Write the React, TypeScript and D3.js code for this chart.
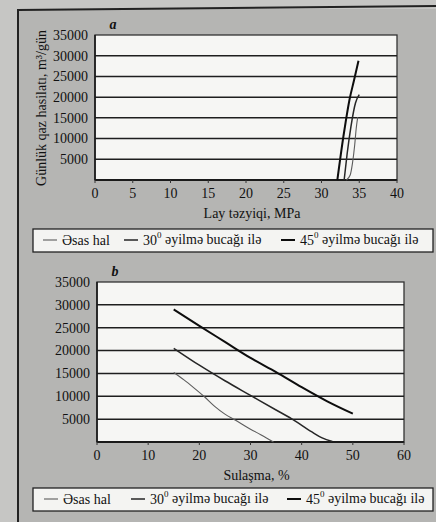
import React, { useEffect, useRef } from "react"
import * as d3 from "d3"

// panel a: pressure (MPa) vs daily gas rate
const pressureTicks = [0, 5, 10, 15, 20, 25, 30, 35, 40]
const rateTicks = [5000, 10000, 15000, 20000, 25000, 30000, 35000]
const pressBase = [[33.3, 0], [33.8, 1200], [34.1, 4000], [34.4, 8500], [34.6, 12500], [34.8, 15200]]
const press30 = [[33.0, 0], [33.4, 6400], [33.9, 12900], [34.5, 18600], [35.0, 20600]]
const press45 = [[32.1, 0], [32.9, 10500], [33.2, 14000], [33.7, 19300], [34.3, 24000], [34.9, 28800]]

// panel b: water cut (%) vs daily gas rate
const waterTicks = [0, 10, 20, 30, 40, 50, 60]
const waterBase = [[15, 15200], [17, 13600], [19, 11800], [21, 9900], [23, 7800], [25, 6100], [27, 4800], [30, 2800], [32, 1600], [34.5, 0]]
const water30 = [[15, 20500], [20, 16800], [25, 13400], [30, 10200], [35, 7000], [38, 5100], [42, 2200], [44, 900], [46, 100]]
const water45 = [[15, 29000], [20, 25400], [25, 21900], [30, 18400], [35, 15300], [40, 12000], [45, 8900], [50, 6200]]

const legendNames = ["Əsas hal", "30", "45"]
const legendSuffix = " əyilmə bucağı ilə"

const font = "'Liberation Serif', 'DejaVu Serif', serif"
const ink = "#111"
const styles = [
    { stroke: "#5c5c5c", width: 1.1 },
    { stroke: "#262626", width: 1.5 },
    { stroke: "#0d0d0d", width: 2 },
]

function drawPanel(svg, p) {
    const x = d3.scaleLinear().domain(p.xDomain).range([p.left, p.right])
    const y = d3.scaleLinear().domain([0, 35000]).range([p.bottom, p.top])
    const g = svg.append("g")

    g.append("rect")
        .attr("x", p.left).attr("y", p.top)
        .attr("width", p.right - p.left).attr("height", p.bottom - p.top)
        .attr("fill", "#f6f6f4").attr("stroke", "#333").attr("stroke-width", 1.3)

    g.selectAll("line.grid").data(rateTicks.slice(0, -1)).enter()
        .append("line").attr("class", "grid")
        .attr("x1", p.left).attr("x2", p.right)
        .attr("y1", d => y(d)).attr("y2", d => y(d))
        .attr("stroke", "#1e1e1e").attr("stroke-width", 1.5)

    g.append("line")
        .attr("x1", p.left).attr("x2", p.right)
        .attr("y1", p.bottom).attr("y2", p.bottom)
        .attr("stroke", "#1a1a1a").attr("stroke-width", 1.8)

    g.append("line")
        .attr("x1", p.left).attr("x2", p.left)
        .attr("y1", p.top).attr("y2", p.bottom)
        .attr("stroke", "#1a1a1a").attr("stroke-width", 1.6)

    g.selectAll("line.xt").data(p.xTicks).enter()
        .append("line").attr("class", "xt")
        .attr("x1", d => x(d)).attr("x2", d => x(d))
        .attr("y1", p.bottom).attr("y2", p.bottom + 3)
        .attr("stroke", "#333")

    g.selectAll("text.yt").data(rateTicks).enter()
        .append("text").attr("class", "yt")
        .attr("x", p.left - 7).attr("y", d => y(d)).attr("dy", "0.35em")
        .attr("text-anchor", "end")
        .attr("font-family", font).attr("font-size", 14).attr("fill", ink)
        .text(d => d)

    g.selectAll("text.xt").data(p.xTicks).enter()
        .append("text").attr("class", "xt")
        .attr("x", d => x(d)).attr("y", p.bottom + 13).attr("dy", "0.35em")
        .attr("text-anchor", "middle")
        .attr("font-family", font).attr("font-size", 14).attr("fill", ink)
        .text(d => d)

    g.append("text")
        .attr("x", (p.left + p.right) / 2 + 6).attr("y", p.bottom + 33).attr("dy", "0.35em")
        .attr("text-anchor", "middle")
        .attr("font-family", font).attr("font-size", 14).attr("fill", ink)
        .text(p.xTitle)

    g.append("text")
        .attr("x", p.left + 18).attr("y", p.top - 11).attr("dy", "0.35em")
        .attr("text-anchor", "middle")
        .attr("font-family", font).attr("font-size", 14).attr("fill", ink)
        .attr("font-style", "italic").attr("font-weight", "bold")
        .text(p.label)

    const line = d3.line().x(d => x(d[0])).y(d => y(d[1])).curve(d3.curveMonotoneX)
    p.series.forEach((s, i) => {
        g.append("path").attr("d", line(s))
            .attr("fill", "none")
            .attr("stroke", styles[i].stroke).attr("stroke-width", styles[i].width)
    })

    // legend box
    const lg = svg.append("g")
    lg.append("rect")
        .attr("x", 33).attr("y", p.legendY - 11)
        .attr("width", 400).attr("height", 23)
        .attr("fill", "#f4f4f2").attr("stroke", "#222").attr("stroke-width", 1.3)
    p.legendX.forEach((lx, i) => {
        lg.append("line")
            .attr("x1", lx).attr("x2", lx + 14)
            .attr("y1", p.legendY).attr("y2", p.legendY)
            .attr("stroke", styles[i].stroke).attr("stroke-width", styles[i].width)
        const t = lg.append("text")
            .attr("x", lx + 19).attr("y", p.legendY).attr("dy", "0.35em")
            .attr("font-family", font).attr("font-size", 14).attr("fill", ink)
        if (i === 0) {
            t.text(legendNames[0])
        } else {
            t.append("tspan").text(legendNames[i])
            t.append("tspan").attr("font-size", 9).attr("dy", "-0.75em").text("0")
            t.append("tspan").attr("dy", "0.45em").text(legendSuffix)
        }
    })
}

export default function App() {
    const ref = useRef(null)

    useEffect(() => {
        const svg = d3.select(ref.current)
        svg.selectAll("*").remove()

        svg.append("rect").attr("width", 436).attr("height", 522).attr("fill", "#c6c6c4")
        svg.append("rect").attr("x", 18).attr("y", 9).attr("width", 430).attr("height", 530)
            .attr("fill", "#b5b5b3")
        svg.append("path").attr("d", "M18,540 L18,10 L440,6")
            .attr("fill", "none").attr("stroke", "#222").attr("stroke-width", 2)

        drawPanel(svg, {
            left: 95, right: 397, top: 35, bottom: 180,
            xDomain: [0, 40], xTicks: pressureTicks,
            xTitle: "Lay təzyiqi, MPa", label: "a",
            series: [pressBase, press30, press45],
            legendY: 240, legendX: [43, 124, 281],
        })

        svg.append("text")
            .attr("transform", "translate(46,108) rotate(-90)")
            .attr("text-anchor", "middle")
            .attr("font-family", font).attr("font-size", 14).attr("fill", ink)
            .text("Günlük qaz hasilatı, m³/gün")

        drawPanel(svg, {
            left: 97, right: 404, top: 282, bottom: 442,
            xDomain: [0, 60], xTicks: waterTicks,
            xTitle: "Sulaşma, %", label: "b",
            series: [waterBase, water30, water45],
            legendY: 499, legendX: [44, 131, 287],
        })
    }, [])

    return (
        <svg ref={ref} width={436} height={522}
            style={{ position: "absolute", left: 0, top: 0, background: "#c6c6c4" }} />
    )
}
